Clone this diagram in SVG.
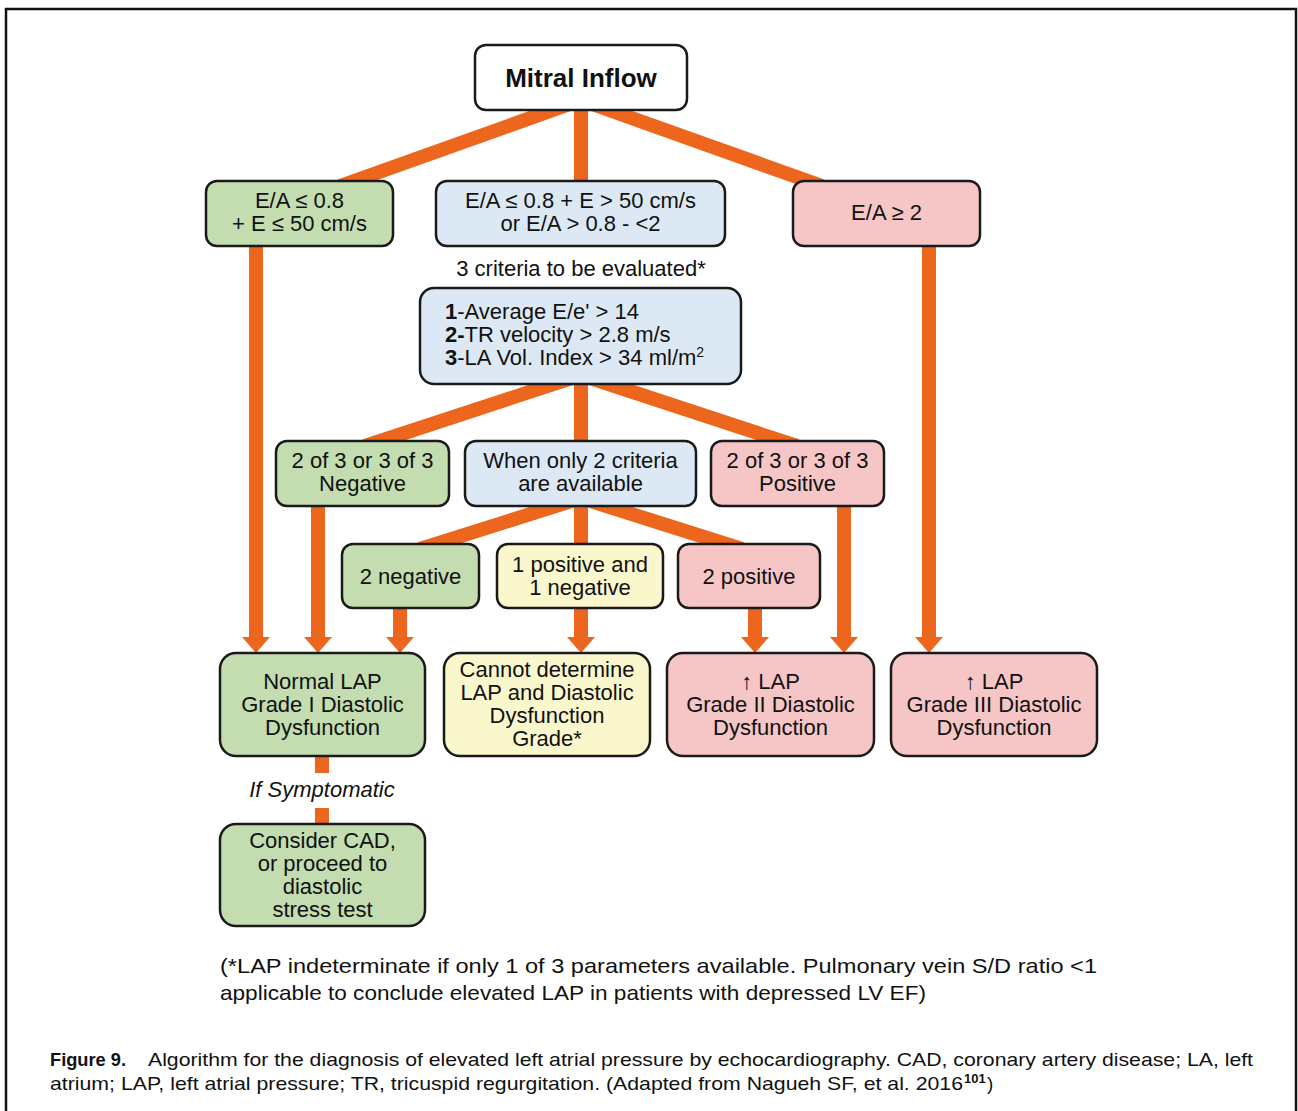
<svg xmlns="http://www.w3.org/2000/svg" width="1298" height="1111" viewBox="0 0 1298 1111">
<style>
.n{stroke:#1a1a1a;stroke-width:2.5}
.g{fill:#c3ddb0}.b{fill:#dce8f4}.p{fill:#f6c6c7}.y{fill:#faf7cc}.w{fill:#ffffff}
text{font-family:"Liberation Sans",Arial,Helvetica,sans-serif;fill:#111}
.t{font-size:22px;text-anchor:middle}
.c{stroke:#ec661e;stroke-width:14;fill:none}
.cap{font-size:19px}
.fn{font-size:21px}
</style>
<defs>
<marker id="ah" markerUnits="userSpaceOnUse" markerWidth="16" markerHeight="28" viewBox="0 -14 16 28" refX="0" refY="0" orient="auto">
<path d="M0,-14 L16,0 L0,14 z" fill="#ec661e"/>
</marker>
</defs>
<rect width="1298" height="1111" fill="#ffffff"/>
<path d="M6,1115 V9 H1296 V1115" fill="none" stroke="#111" stroke-width="2.5"/>
<g id="connectors">
<line class="c" x1="581" y1="100" x2="340" y2="186"/>
<line class="c" x1="581" y1="100" x2="581" y2="186"/>
<line class="c" x1="581" y1="100" x2="822" y2="186"/>
<line class="c" x1="581" y1="375" x2="365" y2="446"/>
<line class="c" x1="581" y1="375" x2="581" y2="446"/>
<line class="c" x1="581" y1="375" x2="797" y2="446"/>
<line class="c" x1="581" y1="498" x2="420" y2="549"/>
<line class="c" x1="581" y1="498" x2="581" y2="549"/>
<line class="c" x1="581" y1="498" x2="742" y2="549"/>
<line class="c" x1="256" y1="246" x2="256" y2="637" marker-end="url(#ah)"/>
<line class="c" x1="318" y1="506" x2="318" y2="637" marker-end="url(#ah)"/>
<line class="c" x1="400" y1="608" x2="400" y2="637" marker-end="url(#ah)"/>
<line class="c" x1="581" y1="608" x2="581" y2="637" marker-end="url(#ah)"/>
<line class="c" x1="755" y1="608" x2="755" y2="637" marker-end="url(#ah)"/>
<line class="c" x1="844" y1="506" x2="844" y2="637" marker-end="url(#ah)"/>
<line class="c" x1="929" y1="246" x2="929" y2="637" marker-end="url(#ah)"/>
<line class="c" x1="322" y1="756" x2="322" y2="773"/>
<line class="c" x1="322" y1="808" x2="322" y2="825"/>
</g>
<g id="mitral">
<rect class="n w" x="475" y="45" width="212" height="65" rx="11"/>
<text x="581" y="87" style="font-size:26px;font-weight:bold;text-anchor:middle">Mitral Inflow</text>
</g>
<g id="ea-low">
<rect class="n g" x="206" y="181" width="187" height="65" rx="11"/>
<text class="t" x="299.5" y="208">E/A ≤ 0.8</text>
<text class="t" x="299.5" y="231">+ E ≤ 50 cm/s</text>
</g>
<g id="ea-mid">
<rect class="n b" x="436" y="181" width="289" height="65" rx="11"/>
<text class="t" x="580.5" y="208">E/A ≤ 0.8 + E &gt; 50 cm/s</text>
<text class="t" x="580.5" y="231">or E/A &gt; 0.8 - &lt;2</text>
</g>
<g id="ea-high">
<rect class="n p" x="793" y="181" width="187" height="65" rx="11"/>
<text class="t" x="886.5" y="220">E/A ≥ 2</text>
</g>
<g id="label-criteria">
<text class="t" x="581" y="276">3 criteria to be evaluated*</text>
</g>
<g id="criteria">
<rect class="n b" x="420" y="288" width="321" height="96" rx="14"/>
<text style="font-size:22px" x="445" y="319"><tspan font-weight="bold">1</tspan>-Average E/e' &gt; 14</text>
<text style="font-size:22px" x="445" y="342"><tspan font-weight="bold">2-</tspan>TR velocity &gt; 2.8 m/s</text>
<text style="font-size:22px" x="445" y="365"><tspan font-weight="bold">3</tspan>-LA Vol. Index &gt; 34 ml/m<tspan font-size="14" dy="-8">2</tspan></text>
</g>
<g id="neg3">
<rect class="n g" x="276" y="441" width="173" height="65" rx="11"/>
<text class="t" x="362.5" y="468">2 of 3 or 3 of 3</text>
<text class="t" x="362.5" y="491">Negative</text>
</g>
<g id="only2">
<rect class="n b" x="465" y="441" width="231" height="65" rx="11"/>
<text class="t" x="580.5" y="468">When only 2 criteria</text>
<text class="t" x="580.5" y="491">are available</text>
</g>
<g id="pos3">
<rect class="n p" x="711" y="441" width="173" height="65" rx="11"/>
<text class="t" x="797.5" y="468">2 of 3 or 3 of 3</text>
<text class="t" x="797.5" y="491">Positive</text>
</g>
<g id="neg2">
<rect class="n g" x="342" y="544" width="137" height="64" rx="11"/>
<text class="t" x="410.5" y="584">2 negative</text>
</g>
<g id="posneg">
<rect class="n y" x="497" y="544" width="166" height="64" rx="11"/>
<text class="t" x="580" y="572">1 positive and</text>
<text class="t" x="580" y="595">1 negative</text>
</g>
<g id="pos2">
<rect class="n p" x="678" y="544" width="142" height="64" rx="11"/>
<text class="t" x="749" y="584">2 positive</text>
</g>
<g id="normal">
<rect class="n g" x="220" y="653" width="205" height="103" rx="16"/>
<text class="t" x="322.5" y="689">Normal LAP</text>
<text class="t" x="322.5" y="712">Grade I Diastolic</text>
<text class="t" x="322.5" y="735">Dysfunction</text>
</g>
<g id="cannot">
<rect class="n y" x="444" y="653" width="206" height="103" rx="16"/>
<text class="t" x="547" y="677">Cannot determine</text>
<text class="t" x="547" y="700">LAP and Diastolic</text>
<text class="t" x="547" y="723">Dysfunction</text>
<text class="t" x="547" y="746">Grade*</text>
</g>
<g id="grade2">
<rect class="n p" x="667" y="653" width="207" height="103" rx="16"/>
<text class="t" x="770.5" y="689">↑ LAP</text>
<text class="t" x="770.5" y="712">Grade II Diastolic</text>
<text class="t" x="770.5" y="735">Dysfunction</text>
</g>
<g id="grade3">
<rect class="n p" x="891" y="653" width="206" height="103" rx="16"/>
<text class="t" x="994" y="689">↑ LAP</text>
<text class="t" x="994" y="712">Grade III Diastolic</text>
<text class="t" x="994" y="735">Dysfunction</text>
</g>
<g id="label-symptomatic">
<text class="t" x="322" y="797" font-style="italic">If Symptomatic</text>
</g>
<g id="consider">
<rect class="n g" x="220" y="824" width="205" height="102" rx="16"/>
<text class="t" x="322.5" y="848">Consider CAD,</text>
<text class="t" x="322.5" y="871">or proceed to</text>
<text class="t" x="322.5" y="894">diastolic</text>
<text class="t" x="322.5" y="917">stress test</text>
</g>
<g id="footnote">
<text class="fn" x="220" y="973" textLength="877" lengthAdjust="spacingAndGlyphs">(*LAP indeterminate if only 1 of 3 parameters available. Pulmonary vein S/D ratio &lt;1</text>
<text class="fn" x="220" y="1000" textLength="706" lengthAdjust="spacingAndGlyphs">applicable to conclude elevated LAP in patients with depressed LV EF)</text>
</g>
<g id="caption">
<text class="cap" x="50" y="1066" font-weight="bold" textLength="76" lengthAdjust="spacingAndGlyphs">Figure 9.</text>
<text class="cap" x="148" y="1066" textLength="1105" lengthAdjust="spacingAndGlyphs">Algorithm for the diagnosis of elevated left atrial pressure by echocardiography. CAD, coronary artery disease; LA, left</text>
<text class="cap" x="50" y="1090" textLength="913" lengthAdjust="spacingAndGlyphs">atrium; LAP, left atrial pressure; TR, tricuspid regurgitation. (Adapted from Nagueh SF, et al. 2016</text>
<text x="964" y="1083" font-size="13" font-weight="bold">101</text>
<text class="cap" x="987" y="1090">)</text>
</g>
</svg>
